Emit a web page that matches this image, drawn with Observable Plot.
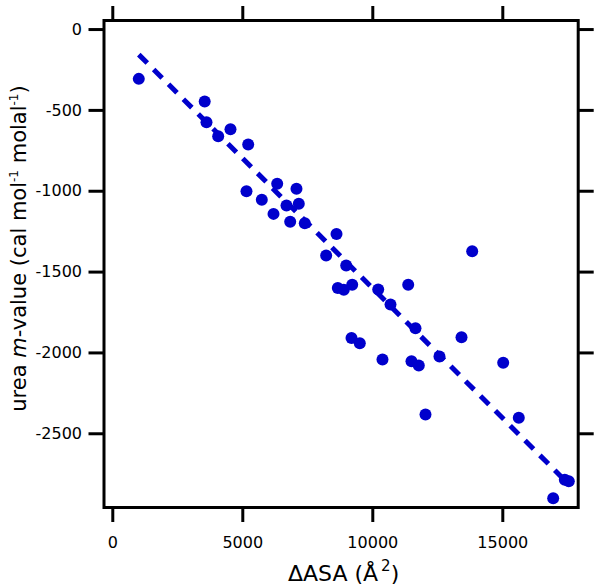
<!DOCTYPE html>
<html><head><meta charset="utf-8">
<script src="https://cdn.jsdelivr.net/npm/d3@7"></script>
<script src="https://cdn.jsdelivr.net/npm/@observablehq/plot@0.6"></script>
<style>body{margin:0;background:#fff}</style>
</head><body><div id="chart"></div>
<script>
// ΔASA (Å^2) and urea m-values (cal mol^-1 molal^-1)
const asa = [1000, 3535, 3604, 4054, 4527, 5208, 5142, 5731, 6323, 6181, 6681, 6823, 7065, 7154, 7385, 8604, 8206, 8977, 8654, 8885, 9208, 10208, 11362, 10681, 11642, 9181, 9500, 10373, 11488, 11769, 12565, 13412, 13823, 12027, 15015, 15615, 17538, 17385, 16938];
const mValue = [-305, -445, -573, -660, -616, -711, -1000, -1053, -954, -1140, -1088, -1189, -985, -1078, -1198, -1264, -1398, -1460, -1598, -1610, -1579, -1608, -1579, -1701, -1847, -1907, -1940, -2041, -2051, -2078, -2022, -1903, -1371, -2381, -2061, -2401, -2793, -2785, -2899];
// linear fit endpoints
const fitAsa = [1000, 17400];
const fitM = [-155, -2790];
const xTicks = [0, 5000, 10000, 15000];
const yTicks = [0, -500, -1000, -1500, -2000, -2500];
const xDomain = [-338, 17900];
const yDomain = [-2956, 56];

const W = 600, H = 587, mL = 103.5, mR = 22.3, mT = 20, mB = 80;
const blue = "#0000cc";
const points = asa.map((x, i) => ({x, y: mValue[i]}));
const fit = fitAsa.map((x, i) => ({x, y: fitM[i]}));
const fmt = d => String(d);

const chart = Plot.plot({
  width: W, height: H,
  marginLeft: mL, marginRight: mR, marginTop: mT, marginBottom: mB,
  style: {fontFamily: "DejaVu Sans", fontSize: "16px", color: "black", background: "white"},
  x: {domain: xDomain},
  y: {domain: yDomain},
  marks: [
    Plot.line(fit, {x: "x", y: "y", stroke: blue, strokeWidth: 5, strokeDasharray: "12,9", strokeLinecap: "butt"}),
    Plot.dot(points, {x: "x", y: "y", r: 6, fill: blue}),
    Plot.frame({stroke: "black", strokeWidth: 3}),
    Plot.axisX({anchor: "bottom", ticks: xTicks, tickFormat: fmt, tickSize: 15, tickPadding: 14, strokeWidth: 3, label: null}),
    Plot.axisX({anchor: "top", ticks: xTicks, tickSize: 15, strokeWidth: 3, fill: "none", label: null}),
    Plot.axisY({anchor: "left", ticks: yTicks, tickFormat: fmt, tickSize: 15, tickPadding: 7, strokeWidth: 3, label: null}),
    Plot.axisY({anchor: "right", ticks: yTicks, tickSize: 15, strokeWidth: 3, fill: "none", label: null})
  ]
});

const svg = d3.select(chart);
// x title
const xt = svg.append("text")
  .attr("x", (mL + W - mR) / 2 + 3).attr("y", H - 6)
  .attr("text-anchor", "middle").attr("font-size", 22).attr("fill", "black");
xt.append("tspan").text("ΔASA (Å");
xt.append("tspan").attr("font-size", 15).attr("dy", -10).attr("dx", 3).text("2");
xt.append("tspan").attr("dy", 10).text(")");
// y title
const yt = svg.append("text")
  .attr("transform", `translate(26,${(mT + H - mB) / 2 - 15}) rotate(-90)`)
  .attr("text-anchor", "middle").attr("font-size", 21).attr("fill", "black");
yt.append("tspan").text("urea ");
yt.append("tspan").attr("font-style", "italic").text("m");
yt.append("tspan").text("-value (cal mol");
yt.append("tspan").attr("font-size", 12).attr("dy", -8).text("-1");
yt.append("tspan").attr("dy", 8).text(" molal");
yt.append("tspan").attr("font-size", 12).attr("dy", -8).text("-1");
yt.append("tspan").attr("dy", 8).text(")");

document.getElementById("chart").append(chart);
</script>
</body></html>
